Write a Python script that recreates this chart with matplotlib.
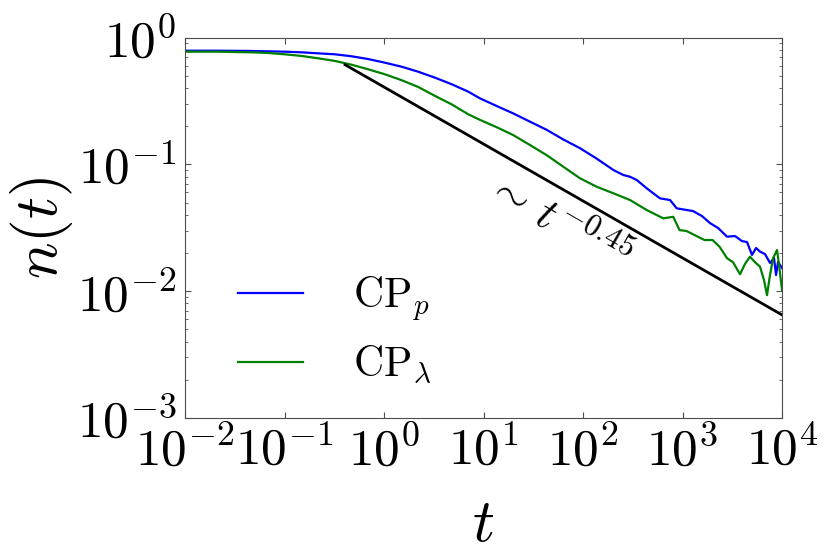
import matplotlib
matplotlib.use("Agg")
import matplotlib.pyplot as plt
from matplotlib import ticker
import numpy as np

# values
t_p = [0.01, 0.0216, 0.0468, 0.101, 0.149, 0.219, 0.322, 0.473, 0.695, 1.02,
       1.51, 2.21, 3.26, 4.79, 7.03, 9.23, 13.6, 19.9, 29.3, 43.2, 63.4, 93.3,
       137, 202, 254, 297, 347, 437, 594, 749, 874, 1276, 1570, 1890, 2275,
       2800, 3372, 3963, 4450, 4992, 5480, 6010, 6745, 7572, 8310, 8709, 9120,
       10000]
n_p = [0.787, 0.787, 0.783, 0.773, 0.764, 0.750, 0.737, 0.711, 0.676, 0.633,
       0.588, 0.537, 0.482, 0.428, 0.374, 0.331, 0.288, 0.252, 0.217, 0.187,
       0.157, 0.134, 0.111, 0.0902, 0.0824, 0.0798, 0.0752, 0.0647, 0.0539,
       0.0523, 0.0450, 0.0428, 0.0391, 0.0344, 0.0315, 0.0269, 0.0272, 0.0248,
       0.0244, 0.0193, 0.0219, 0.0205, 0.0196, 0.0167, 0.0182, 0.0134, 0.0170,
       0.0152]

t_l = [0.01, 0.0216, 0.0468, 0.0687, 0.101, 0.149, 0.219, 0.322, 0.473, 0.695,
       1.02, 1.51, 2.21, 3.26, 4.79, 7.03, 9.23, 13.6, 19.9, 29.3, 43.2, 63.4,
       93.3, 137, 202, 297, 437, 641, 807, 933, 1096, 1383, 1663, 2003, 2355,
       2800, 3218, 3784, 4246, 4764, 5351, 6010, 6592, 7066, 7572, 8128, 8912,
       9333, 10000]
n_l = [0.773, 0.773, 0.764, 0.755, 0.737, 0.715, 0.685, 0.653, 0.610, 0.561,
       0.513, 0.460, 0.407, 0.346, 0.297, 0.248, 0.224, 0.196, 0.170, 0.142,
       0.118, 0.0957, 0.0776, 0.0666, 0.0591, 0.0523, 0.0436, 0.0375, 0.0386,
       0.0303, 0.0298, 0.0272, 0.0253, 0.0253, 0.0224, 0.0182, 0.0169, 0.0136,
       0.0164, 0.0187, 0.0169, 0.0156, 0.0122, 0.0093, 0.0134, 0.0182, 0.0211,
       0.0161, 0.0102]

# guide line ~ t^-0.45
fit_t = [0.406, 10000]
fit_n = [0.61, 0.0065]

x_decades = [-2, -1, 0, 1, 2, 3, 4]
y_decades = [-3, -2, -1, 0]

plt.rcParams['mathtext.fontset'] = 'cm'
plt.rcParams['font.family'] = ['DejaVu Serif']

fig = plt.figure(figsize=(8.3, 5.54), dpi=100)
ax = fig.add_axes([0.2229, 0.2455, 0.7193, 0.6868])

ax.plot(t_p, n_p, color='#0000ff', lw=1.6, label=r'$\mathrm{CP}_p$')
ax.plot(t_l, n_l, color='#008000', lw=1.6, label=r'$\mathrm{CP}_\lambda$')
ax.plot(fit_t, fit_n, color='k', lw=2)

ax.set_xscale('log')
ax.set_yscale('log')
ax.set_xlim(1e-2, 1e4)
ax.set_ylim(1e-3, 1e0)

fmt = ticker.FuncFormatter(lambda v, p: r'$10^{%d}$' % round(np.log10(v)))
ax.set_xticks([10.0 ** d for d in x_decades])
ax.set_yticks([10.0 ** d for d in y_decades])
ax.xaxis.set_major_formatter(fmt)
ax.yaxis.set_major_formatter(fmt)
ax.xaxis.set_minor_formatter(ticker.NullFormatter())
ax.yaxis.set_minor_formatter(ticker.NullFormatter())

ax.text(56, 0.035, r'$\sim\, t^{-0.45}$', fontsize=32, rotation=-30,
        ha='center', va='center')

ax.set_xlabel(r'$t$', fontsize=44)
ax.set_ylabel(r'$n(t)$', fontsize=44)
ax.xaxis.set_label_coords(0.5, -0.2)
ax.yaxis.set_label_coords(-0.184, 0.5)

ax.tick_params(which='both', direction='in', top=True, right=True,
               labelsize=37, color='0.3')
ax.tick_params(which='major', length=4, pad=6)
ax.tick_params(which='minor', length=2)
for s in ax.spines.values():
    s.set_color('0.3')

ax.legend(loc='upper left', bbox_to_anchor=(0.089, 0.378), frameon=False,
          fontsize=30, handlelength=1.56, handletextpad=1.2,
          labelspacing=0.5, borderpad=0, borderaxespad=0)

fig.savefig('out.png', dpi=100)
